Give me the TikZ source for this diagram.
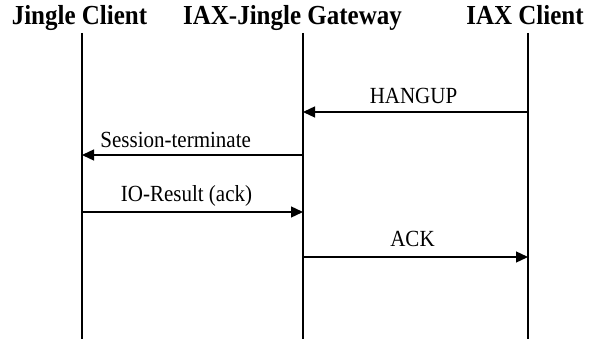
\documentclass[tikz,border=0pt]{standalone}
\usepackage{fontspec}
\setmainfont{Liberation Serif}
\usetikzlibrary{arrows.meta}
\begin{document}
\begin{tikzpicture}[x=1pt,y=-1pt,
  life/.style={line width=1.3pt,black},
  msg/.style={line width=1.3pt,black,-{Triangle[length=12pt,width=11pt]}},
  title/.style={anchor=base,inner sep=0pt,font=\fontsize{25}{25}\selectfont\bfseries},
  lab/.style={anchor=base,inner sep=0pt,font=\fontsize{21}{21}\selectfont}]
\useasboundingbox[fill=white] (0,0) rectangle (591,339);
% titles
\node[title] (tj) at (79.5,25) {\scalebox{1}[1.1]{Jingle Client}};
\node[title] (tg) at (292.5,25) {\scalebox{1}[1.1]{IAX-Jingle Gateway}};
\node[title] (ti) at (525,25) {\scalebox{1}[1.1]{IAX Client}};
% lifelines
\coordinate (jt) at (82,33);  \coordinate (jb) at (82,339);
\coordinate (gt) at (303,33); \coordinate (gb) at (303,339);
\coordinate (it) at (528,33); \coordinate (ib) at (528,339);
\draw[life] (jt) -- (jb);
\draw[life] (gt) -- (gb);
\draw[life] (it) -- (ib);
% message endpoints
\coordinate (i1) at (528,112); \coordinate (g1) at (303,112);
\coordinate (g2) at (303,155); \coordinate (j2) at (82,155);
\coordinate (j3) at (82,212);  \coordinate (g3) at (303,212);
\coordinate (g4) at (303,257); \coordinate (i4) at (528,257);
\draw[msg] (i1) -- (g1);
\draw[msg] (g2) -- (j2);
\draw[msg] (j3) -- (g3);
\draw[msg] (g4) -- (i4);
% labels
\node[lab] (l1) at (413.5,104) {\scalebox{1}[1.1]{HANGUP}};
\node[lab] (l2) at (175.7,147.7) {\scalebox{1}[1.1]{Session-terminate}};
\node[lab] (l3) at (186.5,201) {\scalebox{1}[1.1]{IO-Result (ack)}};
\node[lab] (l4) at (412.5,246.7) {\scalebox{1}[1.1]{ACK}};
\end{tikzpicture}
\end{document}
